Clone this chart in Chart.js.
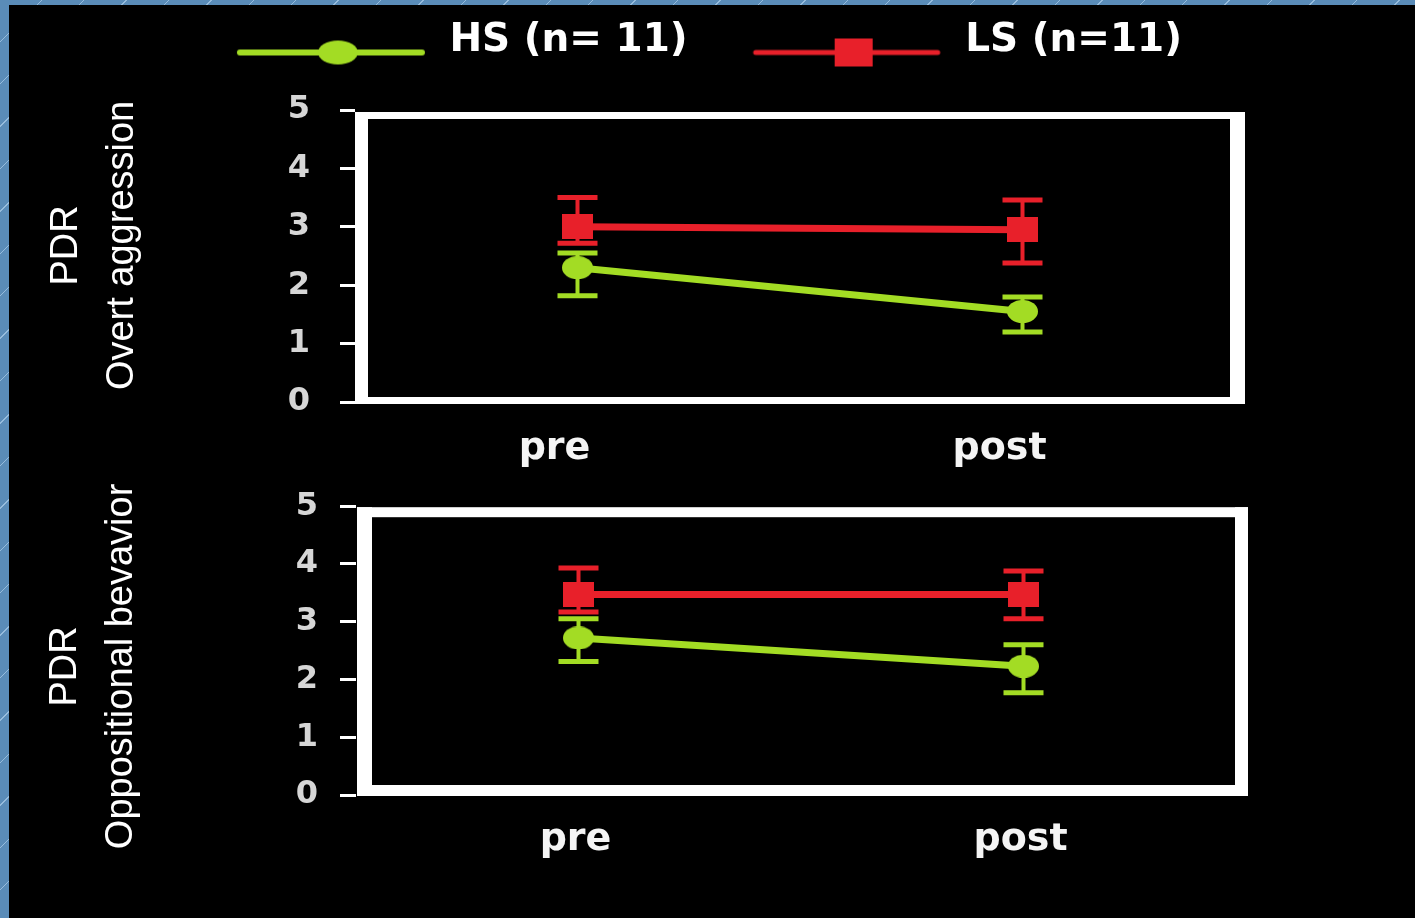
<!DOCTYPE html>
<html>
<head>
<meta charset="utf-8">
<script src="https://cdn.jsdelivr.net/npm/chart.js@4/dist/chart.umd.min.js"></script>
<style>
  html, body { margin: 0; padding: 0; background: #000; width: 1415px; height: 918px; overflow: hidden; }
  canvas { position: absolute; left: 0; }
  #panelTop { top: 0; }
  #panelBottom { top: 465px; }
  .edge {
    position: absolute; z-index: 2;
    background-color: #5a8cb8;
    background-image: repeating-linear-gradient(135deg, rgba(0,0,0,0) 0 29px, rgba(190,220,245,0.6) 29px 30px);
  }
  #edgeTop { left: 0; top: 0; width: 1415px; height: 5px; }
  #edgeLeft { left: 0; top: 0; width: 9px; height: 918px; }
</style>
</head>
<body>
<div class="edge" id="edgeTop"></div>
<div class="edge" id="edgeLeft"></div>
<canvas id="panelTop" width="1415" height="482"></canvas>
<canvas id="panelBottom" width="1415" height="453"></canvas>
<script>
// Measurement occasions
const PHASES = ['pre', 'post'];

// Legend labels
const GROUP_LABELS = ['HS (n= 11)', 'LS (n=11)'];

// Overt aggression: means and error-bar limits
const HS_OVERT = [2.3, 1.55];
const HS_OVERT_LOW = [1.82, 1.2];
const HS_OVERT_HIGH = [2.55, 1.8];
const LS_OVERT = [3.0, 2.95];
const LS_OVERT_LOW = [2.72, 2.38];
const LS_OVERT_HIGH = [3.5, 3.46];

// Oppositional behaviour: means and error-bar limits
const HS_OPP = [2.72, 2.23];
const HS_OPP_LOW = [2.31, 1.77];
const HS_OPP_HIGH = [3.05, 2.6];
const LS_OPP = [3.47, 3.47];
const LS_OPP_LOW = [3.17, 3.05];
const LS_OPP_HIGH = [3.93, 3.88];

// Y axis range
const Y_MIN = 0;
const Y_MAX = 5;
const Y_STEP = 1;

const GREEN = '#a3dc24';
const RED = '#e8202a';

function markerImage(shape, w, h, color) {
  const c = document.createElement('canvas');
  c.width = w; c.height = h;
  const g = c.getContext('2d');
  g.fillStyle = color;
  if (shape === 'ellipse') {
    g.beginPath(); g.ellipse(w / 2, h / 2, w / 2, h / 2, 0, 0, Math.PI * 2); g.fill();
  } else {
    g.fillRect(0, 0, w, h);
  }
  return c;
}

// Legend swatch: a line with the series marker, drawn a little below the text centre
const SWATCH_W = 237;
function legendSwatch(shape, color, lineW, mw, mh) {
  const W = SWATCH_W, H = 70;
  const c = document.createElement('canvas');
  c.width = W; c.height = H;
  const g = c.getContext('2d');
  const y = H / 2 + 12, x0 = 47, x1 = 229;
  g.strokeStyle = color; g.lineWidth = lineW; g.lineCap = 'round';
  g.beginPath(); g.moveTo(x0, y); g.lineTo(x1, y); g.stroke();
  g.fillStyle = color;
  const cx = (x0 + x1) / 2 + 7;
  if (shape === 'ellipse') {
    g.beginPath(); g.ellipse(cx, y, mw / 2, mh / 2, 0, 0, Math.PI * 2); g.fill();
  } else {
    g.fillRect(cx - mw / 2, y - mh / 2, mw, mh);
  }
  return c;
}

const HS_MARKER = markerImage('ellipse', 31, 23, GREEN);
const LS_MARKER = markerImage('rect', 31, 25, RED);
const SWATCHES = [legendSwatch('ellipse', GREEN, 6, 40, 24), legendSwatch('rect', RED, 5, 38, 28)];

// White box around the plotting area
const framePlugin = {
  id: 'frame',
  beforeDatasetsDraw(chart, args, o) {
    const { left: L, right: R, top: T, bottom: B } = chart.chartArea;
    const ctx = chart.ctx;
    const x0 = L + o.left[0], x1 = R + o.right[1];
    const y0 = T + o.top[0], y1 = B + o.bottom[1];
    ctx.save();
    ctx.fillStyle = o.color;
    ctx.fillRect(x0, y0, x1 - x0, o.top[1] - o.top[0]);
    ctx.fillRect(x0, B + o.bottom[0], x1 - x0, o.bottom[1] - o.bottom[0]);
    ctx.fillRect(x0, y0, o.left[1] - o.left[0], y1 - y0);
    ctx.fillRect(R + o.right[0], y0, o.right[1] - o.right[0], y1 - y0);
    ctx.restore();
  }
};

// Vertical error bars with caps, from each dataset's errLow / errHigh arrays
const errorBarPlugin = {
  id: 'errorBars',
  beforeDatasetDraw(chart, args, o) {
    const ds = chart.data.datasets[args.index];
    if (!ds.errLow || !ds.errHigh) return;
    const yScale = chart.scales.y;
    const ctx = chart.ctx;
    ctx.save();
    ctx.strokeStyle = ds.borderColor;
    ctx.lineCap = 'butt';
    args.meta.data.forEach((pt, i) => {
      const yl = yScale.getPixelForValue(ds.errLow[i]);
      const yh = yScale.getPixelForValue(ds.errHigh[i]);
      const half = o.capWidth / 2;
      ctx.lineWidth = o.stemWidth;
      ctx.beginPath(); ctx.moveTo(pt.x, yl); ctx.lineTo(pt.x, yh); ctx.stroke();
      ctx.lineWidth = o.capThickness;
      ctx.beginPath();
      ctx.moveTo(pt.x - half, yl); ctx.lineTo(pt.x + half, yl);
      ctx.moveTo(pt.x - half, yh); ctx.lineTo(pt.x + half, yh);
      ctx.stroke();
    });
    ctx.restore();
  }
};

function buildPanel(canvasId, cfg) {
  return new Chart(document.getElementById(canvasId), {
    type: 'line',
    data: {
      labels: PHASES,
      datasets: [
        {
          label: GROUP_LABELS[0], data: cfg.hs, errLow: cfg.hsLow, errHigh: cfg.hsHigh,
          borderColor: GREEN, backgroundColor: GREEN, borderWidth: 7, tension: 0,
          pointStyle: HS_MARKER, pointRadius: 15
        },
        {
          label: GROUP_LABELS[1], data: cfg.ls, errLow: cfg.lsLow, errHigh: cfg.lsHigh,
          borderColor: RED, backgroundColor: RED, borderWidth: 7, tension: 0,
          pointStyle: LS_MARKER, pointRadius: 15
        }
      ]
    },
    options: {
      responsive: false,
      animation: false,
      devicePixelRatio: 1,
      events: [],
      layout: { padding: { top: 0, left: 0, bottom: 0, right: cfg.padRight } },
      plugins: {
        tooltip: { enabled: false },
        legend: {
          display: cfg.legend,
          position: 'top',
          align: 'center',
          labels: {
            usePointStyle: true,
            pointStyleWidth: SWATCH_W,
            padding: 21,
            color: '#ffffff',
            font: { family: 'DejaVu Sans', weight: 'bold', size: 39 },
            generateLabels: (chart) => chart.data.datasets.map((ds, i) => ({
              text: ds.label,
              fillStyle: ds.borderColor,
              strokeStyle: ds.borderColor,
              lineWidth: 0,
              pointStyle: SWATCHES[i],
              fontColor: '#ffffff',
              hidden: false,
              datasetIndex: i
            }))
          }
        },
        frame: Object.assign({ color: '#ffffff' }, cfg.frame),
        errorBars: { stemWidth: 4, capWidth: 40, capThickness: 5 }
      },
      scales: {
        x: {
          type: 'category',
          position: 'bottom',
          offset: true,
          grid: { display: false },
          border: { display: false },
          ticks: {
            color: '#f4f4f4',
            font: { family: 'DejaVu Sans', weight: 'bold', size: 38 },
            padding: cfg.xPad,
            labelOffset: cfg.labelOffset,
            maxRotation: 0,
            autoSkip: false
          },
          afterFit: (s) => { s.height = cfg.xHeight; }
        },
        xTop: {
          type: 'linear',
          position: 'top',
          display: true,
          grid: { display: false },
          border: { display: false },
          ticks: { display: false },
          afterFit: (s) => {
            const lg = s.chart.legend ? s.chart.legend.height : 0;
            s.height = Math.max(0, cfg.top - lg);
          }
        },
        y: {
          type: 'linear',
          position: 'left',
          min: Y_MIN,
          max: Y_MAX,
          ticks: {
            stepSize: Y_STEP,
            color: '#d6d6d6',
            font: { family: 'DejaVu Sans', weight: 'bold', size: 32 },
            padding: cfg.yPad
          },
          grid: {
            display: true, drawOnChartArea: false, drawTicks: true,
            tickLength: cfg.tickLen, color: '#ffffff', lineWidth: 3
          },
          border: { display: false },
          title: {
            display: true,
            text: cfg.title,
            color: '#ffffff',
            font: { family: 'Liberation Sans', size: 38, lineHeight: 1.47 },
            padding: { top: cfg.titlePad, bottom: 0 }
          },
          afterFit: (s) => { s.width = cfg.left; }
        },
        yRight: {
          type: 'linear',
          position: 'right',
          display: true,
          grid: { display: false },
          border: { display: false },
          ticks: { display: false },
          afterFit: (s) => { s.width = cfg.rightW; }
        }
      }
    },
    plugins: [framePlugin, errorBarPlugin]
  });
}

buildPanel('panelTop', {
  hs: HS_OVERT, hsLow: HS_OVERT_LOW, hsHigh: HS_OVERT_HIGH,
  ls: LS_OVERT, lsLow: LS_OVERT_LOW, lsHigh: LS_OVERT_HIGH,
  legend: true,
  title: ['  PDR', '  Overt aggression'],
  titlePad: 39,
  left: 355, top: 110, xHeight: 80, rightW: 130, padRight: 40,
  tickLen: 15, yPad: 30, xPad: 16, labelOffset: -23,
  frame: { left: [0, 13], right: [-15, 0], top: [2, 9], bottom: [-5, 2] }
});

buildPanel('panelBottom', {
  hs: HS_OPP, hsLow: HS_OPP_LOW, hsHigh: HS_OPP_HIGH,
  ls: LS_OPP, lsLow: LS_OPP_LOW, lsHigh: LS_OPP_HIGH,
  legend: false,
  title: ['PDR   ', 'Oppositional bevavior   '],
  titlePad: 38,
  left: 356, top: 27, xHeight: 123, rightW: 169, padRight: 0,
  tickLen: 16, yPad: 22, xPad: 14, labelOffset: -3,
  frame: { left: [1, 16], right: [-11, 2], top: [1, 11], bottom: [-10, 1] }
});
</script>
</body>
</html>
